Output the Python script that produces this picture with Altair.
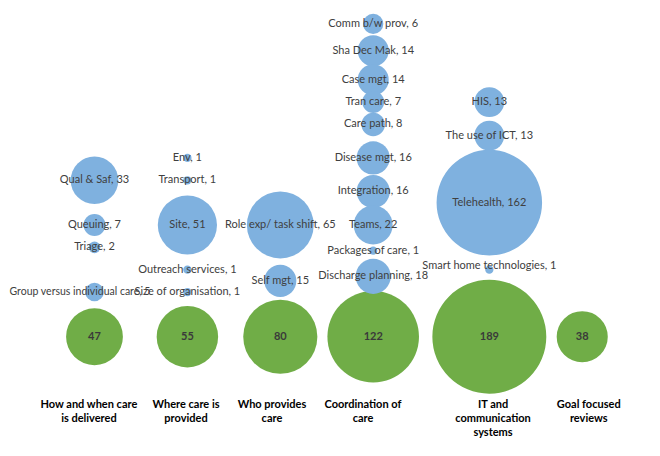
import altair as alt
import pandas as pd

# Blue bubbles (sub-themes)
blue_labels = ["Qual & Saf", "Queuing", "Triage", "Group versus individual care",
               "Env", "Transport", "Site", "Outreach services", "Size of organisation",
               "Role exp/ task shift", "Self mgt",
               "Comm b/w prov", "Sha Dec Mak", "Case mgt", "Tran care", "Care path",
               "Disease mgt", "Integration", "Teams", "Packages of care", "Discharge planning",
               "HIS", "The use of ICT", "Telehealth", "Smart home technologies"]
blue_values = [33, 7, 2, 5,
               1, 1, 51, 1, 1,
               65, 15,
               6, 14, 14, 7, 8, 16, 16, 22, 1, 18,
               13, 13, 162, 1]
blue_x = [1, 1, 1, 1,
          2, 2, 2, 2, 2,
          3, 3,
          4, 4, 4, 4, 4, 4, 4, 4, 4, 4,
          5.25, 5.25, 5.25, 5.25]
blue_y = [7, 5, 4, 2,
          8, 7, 5, 3, 2,
          5, 2.5,
          14, 12.8, 11.5, 10.5, 9.5, 8, 6.5, 5, 3.85, 2.7,
          10.5, 9, 6, 3]

# Green bubbles (themes)
green_categories = ["How and when care\nis delivered", "Where care is\nprovided",
                    "Who provides\ncare", "Coordination of\ncare",
                    "IT and\ncommunication\nsystems", "Goal focused\nreviews"]
green_values = [47, 55, 80, 122, 189, 38]
green_x = [1, 2, 3, 4, 5.25, 6.25]
green_y = [0, 0, 0, 0, 0, 0]
category_label_x = [0.94, 1.985, 2.91, 3.89, 5.29, 6.32]
category_label_y = [-2.8, -2.8, -2.8, -2.8, -2.8, -2.8]

blue = pd.DataFrame({"label": blue_labels, "value": blue_values, "x": blue_x, "y": blue_y})
blue["text"] = blue["label"] + ", " + blue["value"].astype(str)
green = pd.DataFrame({"cat": green_categories, "value": green_values, "x": green_x, "y": green_y})
cats = pd.DataFrame({"cat": green_categories, "x": category_label_x, "y": category_label_y})

xs = alt.Scale(domain=[0.069, 7.001], nice=False, zero=False)
ys = alt.Scale(domain=[-4.98, 14.71], nice=False, zero=False)
ss = alt.Scale(domain=[0, 200], range=[0, 200 * 68.7], zero=True)

X = alt.X("x:Q", scale=xs, axis=None)
Y = alt.Y("y:Q", scale=ys, axis=None)

green_pts = alt.Chart(green).mark_circle(opacity=1, color="#70AD47").encode(
    x=X, y=Y, size=alt.Size("value:Q", scale=ss, legend=None)
)
blue_pts = alt.Chart(blue).mark_circle(opacity=1, color="#7FB1DF").encode(
    x=X, y=Y, size=alt.Size("value:Q", scale=ss, legend=None)
)

main_blue = blue[~blue["label"].isin(["Group versus individual care", "Smart home technologies"])]
blue_txt = alt.Chart(main_blue).mark_text(
    font="Lato", fontSize=11, color="#404040", align="center", baseline="middle"
).encode(x=X, y=Y, text="text:N")

group_txt = alt.Chart(blue[blue["label"] == "Group versus individual care"]).mark_text(
    font="Lato", fontSize=10.5, color="#404040", align="left", baseline="middle", dx=-85
).encode(x=X, y=Y, text="text:N")

smart_txt = alt.Chart(blue[blue["label"] == "Smart home technologies"]).mark_text(
    font="Lato", fontSize=11, color="#404040", align="center", baseline="middle", dy=-4
).encode(x=X, y=Y, text="text:N")

green_txt = alt.Chart(green).mark_text(
    font="Lato", fontSize=11, fontWeight="bold", color="#3A3A3A", align="center", baseline="middle"
).encode(x=X, y=Y, text="value:Q")

cat_txt = alt.Chart(cats).mark_text(
    font="Lato", fontSize=11, fontWeight="bold", color="#000000", align="center",
    baseline="top", lineBreak="\n", lineHeight=14
).encode(x=X, y=Y, text="cat:N")

chart = alt.layer(green_pts, blue_pts, blue_txt, group_txt, smart_txt, green_txt, cat_txt).properties(
    width=644, height=440, autosize=alt.AutoSizeParams(type="none"), padding=0,
    background="white"
).configure_view(stroke=None)

chart.save("out.html", embed_options={"renderer": "svg", "actions": False})
